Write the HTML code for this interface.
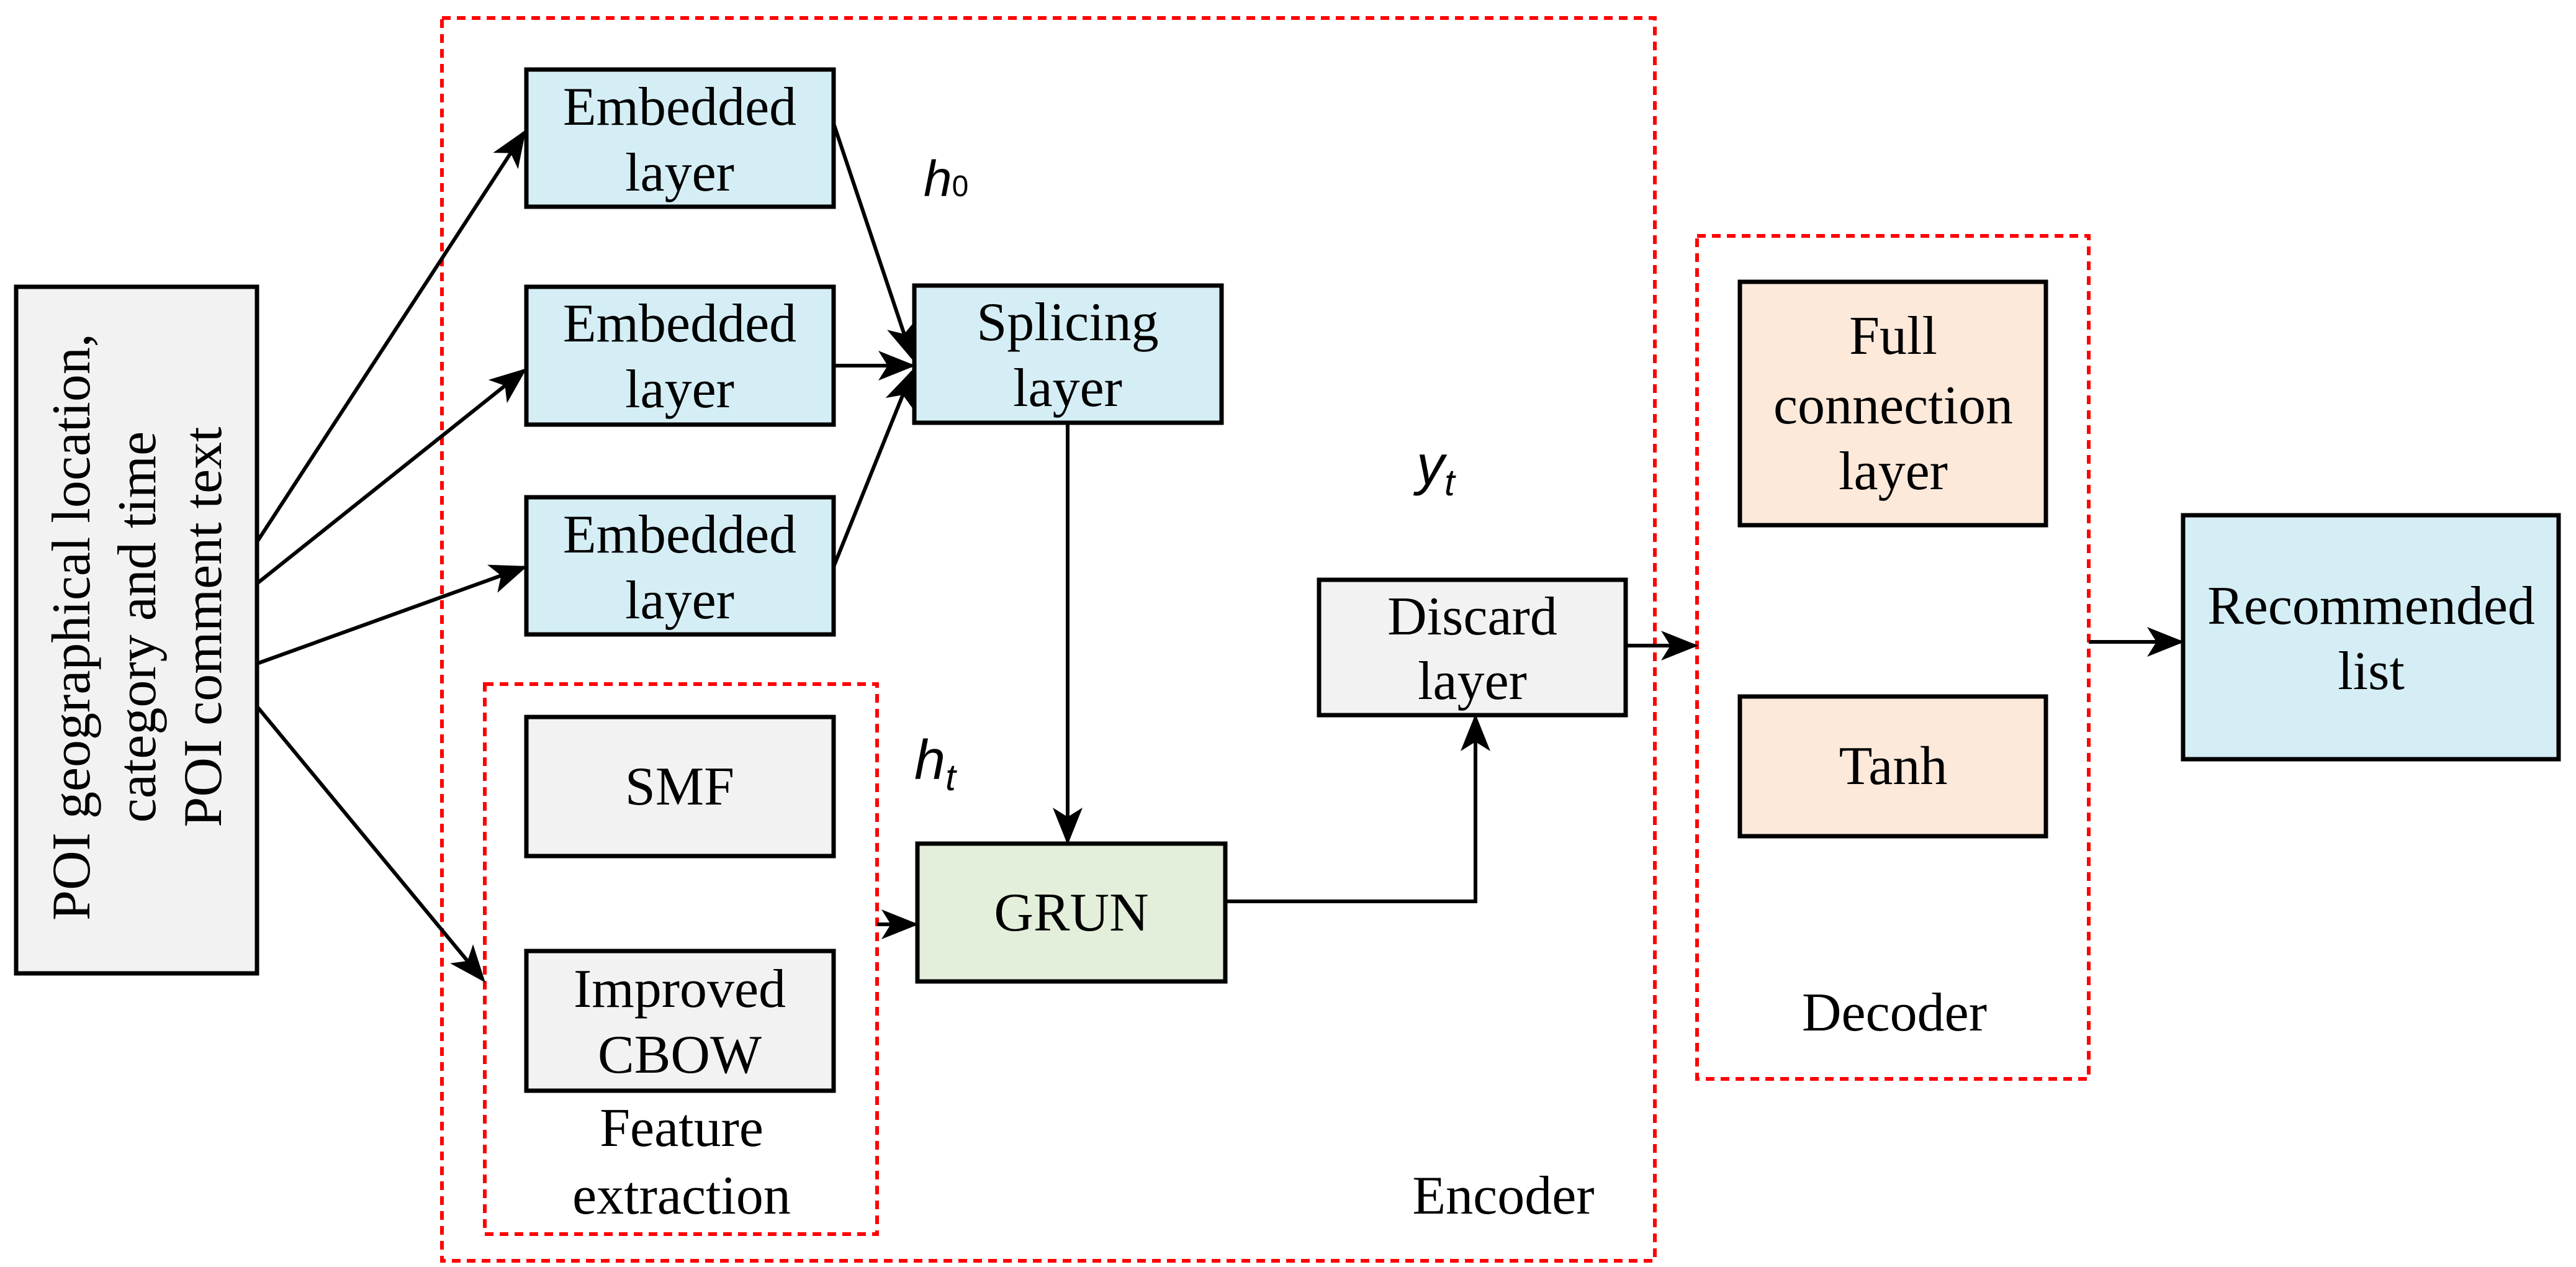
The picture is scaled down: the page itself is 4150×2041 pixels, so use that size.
<!DOCTYPE html>
<html><head><meta charset="utf-8"><style>
html,body{margin:0;padding:0;background:#fff}
svg{display:block}
text{font-family:"Liberation Serif",serif;fill:#000}
.i{font-family:"Liberation Sans",sans-serif;font-style:italic}
</style></head><body>
<svg width="4150" height="2041" viewBox="0 0 4150 2041" xmlns="http://www.w3.org/2000/svg">
<defs>
<marker id="a" markerWidth="10" markerHeight="8" refX="9" refY="4" orient="auto" markerUnits="strokeWidth">
<path d="M0,0 L10,4 L0,8 L2.5,4 z" fill="#000"/>
</marker>
</defs>
<g fill="none" stroke="#ff0000" stroke-width="6" stroke-dasharray="14,10">
<rect x="712" y="29" width="1954" height="2002"/>
<rect x="781" y="1102" width="632" height="886"/>
<rect x="2734" y="380" width="631" height="1358"/>
</g>
<g stroke="#000" stroke-width="7">
<rect x="26" y="462" width="388" height="1106" fill="#f2f2f2"/>
<rect x="848" y="112" width="495" height="221" fill="#d5eef5"/>
<rect x="848" y="462" width="495" height="222" fill="#d5eef5"/>
<rect x="848" y="801" width="495" height="221" fill="#d5eef5"/>
<rect x="1473" y="460" width="495" height="221" fill="#d5eef5"/>
<rect x="848" y="1155" width="495" height="224" fill="#f2f2f2"/>
<rect x="848" y="1532" width="495" height="225" fill="#f2f2f2"/>
<rect x="1478" y="1359" width="496" height="222" fill="#e3efda"/>
<rect x="2125" y="934" width="494" height="218" fill="#f2f2f2"/>
<rect x="2803" y="454" width="493" height="392" fill="#fde9da"/>
<rect x="2803" y="1122" width="493" height="225" fill="#fde9da"/>
<rect x="3517" y="830" width="605" height="393" fill="#d5eef5"/>
</g>
<g stroke="#000" stroke-width="6" fill="none" marker-end="url(#a)">
<line x1="414" y1="873" x2="844" y2="214"/>
<line x1="414" y1="940" x2="844" y2="597"/>
<line x1="414" y1="1069" x2="844" y2="914"/>
<line x1="414" y1="1138" x2="778" y2="1578"/>
<line x1="1343" y1="199" x2="1469" y2="575"/>
<line x1="1343" y1="589" x2="1469" y2="589"/>
<line x1="1343" y1="913" x2="1469" y2="600"/>
<line x1="1720" y1="681" x2="1720" y2="1355"/>
<line x1="1413" y1="1489" x2="1474" y2="1489"/>
<polyline points="1974,1452 2377,1452 2377,1156"/>
<line x1="2619" y1="1040" x2="2730" y2="1040"/>
<line x1="3365" y1="1034" x2="3513" y2="1034"/>
</g>
<g font-size="88" text-anchor="middle">
<text x="1095" y="201">Embedded</text><text x="1095" y="307">layer</text>
<text x="1095" y="550">Embedded</text><text x="1095" y="656">layer</text>
<text x="1095" y="890">Embedded</text><text x="1095" y="996">layer</text>
<text x="1720" y="548">Splicing</text><text x="1720" y="654">layer</text>
<text x="1095" y="1296">SMF</text>
<text x="1095" y="1622">Improved</text><text x="1095" y="1728">CBOW</text>
<text x="1098" y="1846">Feature</text><text x="1098" y="1955">extraction</text>
<text x="1726" y="1499">GRUN</text>
<text x="2372" y="1022">Discard</text><text x="2372" y="1126">layer</text>
<text x="2422" y="1955">Encoder</text>
<text x="3050" y="570">Full</text><text x="3050" y="682">connection</text><text x="3050" y="788">layer</text>
<text x="3050" y="1263">Tanh</text>
<text x="3052" y="1660">Decoder</text>
<text x="3820" y="1005">Recommended</text><text x="3820" y="1110">list</text>
<g transform="translate(220,1010) rotate(-90)">
<text x="0" y="-76">POI geographical location,</text>
<text x="0" y="30">category and time</text>
<text x="0" y="136">POI comment text</text>
</g>
</g>
<text class="i" x="1488" y="316" font-size="82">h<tspan font-size="48" font-style="normal">0</tspan></text>
<text class="i" x="1473" y="1255" font-size="90">h<tspan font-size="60" dy="18">t</tspan></text>
<text class="i" x="2282" y="780" font-size="90">y<tspan font-size="60" dy="18">t</tspan></text>
</svg>
</body></html>
